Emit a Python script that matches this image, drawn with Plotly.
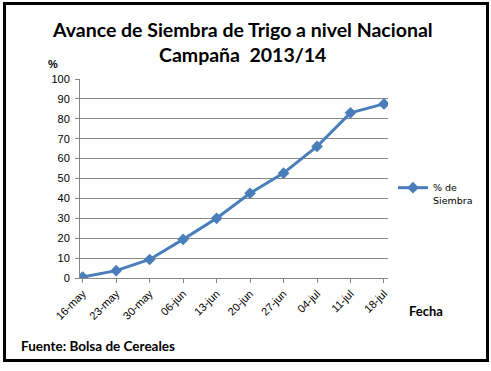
import plotly.graph_objects as go

fechas = ["16-may", "23-may", "30-may", "06-jun", "13-jun", "20-jun", "27-jun", "04-jul", "11-jul", "18-jul"]
siembra = [0.5, 3.7, 9.3, 19.4, 30.0, 42.6, 52.7, 66.1, 83.0, 87.5]
y_ticks = list(range(0, 101, 10))

W, H = 491, 371
L, R, T, B = 80, 388, 79, 278  # plot area in px

def px(x):
    return (x - L) / (R - L)

def py(y):
    return (B - y) / (B - T)

fig = go.Figure()
fig.add_trace(go.Scatter(
    x=fechas, y=siembra, mode="lines+markers", name="% de<br>Siembra",
    line=dict(color="#4a7ebb", width=3),
    marker=dict(symbol="diamond", size=9, color="#4a7ebb"),
))

fig.update_layout(
    width=W, height=H,
    margin=dict(l=L, r=W - R, t=T, b=H - B, autoexpand=False),
    paper_bgcolor="white", plot_bgcolor="white",
    font=dict(family="Liberation Sans", size=11, color="black"),
    showlegend=True,
    legend=dict(x=px(393), y=py(175), xanchor="left", yanchor="top",
                font=dict(family="DejaVu Sans", size=9.5, color="black"),
                itemwidth=30, valign="top", bgcolor="rgba(0,0,0,0)",
                tracegroupgap=0),
    xaxis=dict(type="category", range=[-0.08, 9.12], showgrid=False,
               showline=True, linecolor="#868686", linewidth=1,
               ticks="outside", ticklen=4, tickcolor="#868686",
               tickangle=-45, tickfont=dict(size=11, family="Liberation Sans")),
    yaxis=dict(range=[0, 100], tickvals=y_ticks, showgrid=True,
               gridcolor="#868686", gridwidth=1,
               showline=True, linecolor="#868686", linewidth=1,
               ticks="outside", ticklen=4, tickcolor="#868686",
               ticklabelstandoff=3,
               zeroline=False, tickfont=dict(size=11, family="Liberation Sans")),
    annotations=[
        dict(text="<b>Avance de Siembra de Trigo a nivel Nacional</b>", x=px(242), y=py(29),
             xref="paper", yref="paper", showarrow=False, xanchor="center", yanchor="middle",
             font=dict(family="Lato", size=19.5, color="black")),
        dict(text="<b>Campaña  2013/14</b>", x=px(242), y=py(55),
             xref="paper", yref="paper", showarrow=False, xanchor="center", yanchor="middle",
             font=dict(family="Lato", size=19.5, color="black")),
        dict(text="<b>%</b>", x=px(53), y=py(64),
             xref="paper", yref="paper", showarrow=False, xanchor="center", yanchor="middle",
             font=dict(family="Liberation Sans", size=11, color="black")),
        dict(text="<b>Fecha</b>", x=px(407), y=py(311),
             xref="paper", yref="paper", showarrow=False, xanchor="left", yanchor="middle",
             font=dict(family="Lato", size=13, color="black")),
        dict(text="<b>Fuente: Bolsa de Cereales</b>", x=px(19), y=py(346),
             xref="paper", yref="paper", showarrow=False, xanchor="left", yanchor="middle",
             font=dict(family="Lato", size=13.5, color="black")),
    ],
    shapes=[
        dict(type="rect", xref="paper", yref="paper",
             x0=px(4.5), x1=px(487.5), y0=py(360.5), y1=py(3.5),
             line=dict(color="black", width=3), fillcolor="rgba(0,0,0,0)", layer="above"),
    ],
)

fig.write_html("out.html", config={"displayModeBar": False},
               post_script="document.body.style.margin='0';document.body.style.padding='0';")
